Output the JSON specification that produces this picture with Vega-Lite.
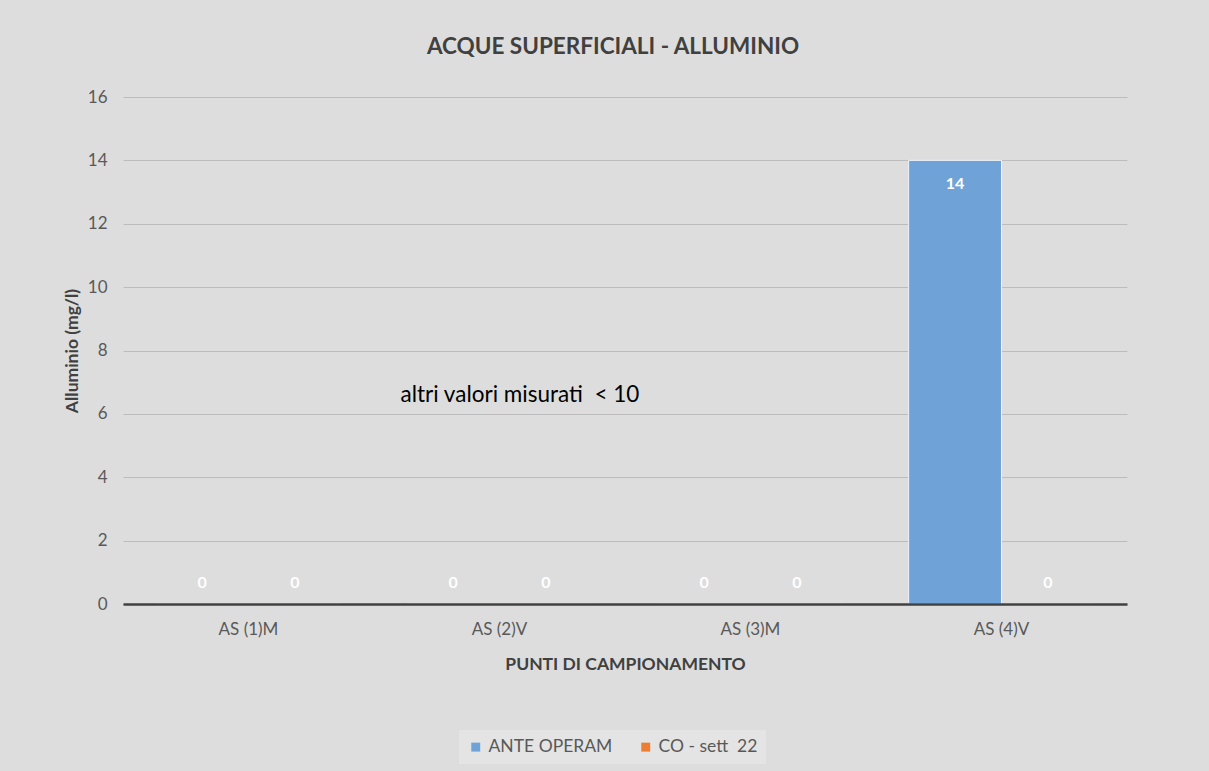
{
  "$schema": "https://vega.github.io/schema/vega-lite/v6.json",
  "width": 1004,
  "height": 507,
  "autosize": {"type": "none"},
  "padding": {"left": 123, "top": 97, "right": 82, "bottom": 167},
  "background": "#dddddd",
  "title": {
    "text": "ACQUE SUPERFICIALI - ALLUMINIO",
    "font": "Lato",
    "fontSize": 22.5,
    "fontWeight": "bold",
    "color": "#404040",
    "offset": 30,
    "dx": -12
  },
  "config": {
    "view": {"stroke": null},
    "axis": {
      "labelFont": "Lato",
      "titleFont": "Lato",
      "labelColor": "#595959",
      "titleColor": "#404040"
    }
  },
  "data": {
    "values": [
      {"punto": "AS (1)M", "serie": "ANTE OPERAM", "valore": 0},
      {"punto": "AS (1)M", "serie": "CO - sett\u00a0 22", "valore": 0},
      {"punto": "AS (2)V", "serie": "ANTE OPERAM", "valore": 0},
      {"punto": "AS (2)V", "serie": "CO - sett\u00a0 22", "valore": 0},
      {"punto": "AS (3)M", "serie": "ANTE OPERAM", "valore": 0},
      {"punto": "AS (3)M", "serie": "CO - sett\u00a0 22", "valore": 0},
      {"punto": "AS (4)V", "serie": "ANTE OPERAM", "valore": 14},
      {"punto": "AS (4)V", "serie": "CO - sett\u00a0 22", "valore": 0}
    ]
  },
  "encoding": {
    "x": {
      "field": "punto",
      "type": "nominal",
      "sort": null,
      "scale": {"paddingInner": 0.26, "paddingOuter": 0.13},
      "axis": {
        "title": "PUNTI DI CAMPIONAMENTO",
        "labelAngle": 0,
        "labelFontSize": 17,
        "labelPadding": 17,
        "titleFontSize": 17.5,
        "titleFontWeight": "bold",
        "titlePadding": 18,
        "ticks": false,
        "domainColor": "#404040",
        "domainWidth": 2.5,
        "zindex": 1
      }
    },
    "xOffset": {"field": "serie", "type": "nominal", "sort": null, "scale": {"paddingInner": 0, "paddingOuter": 0}},
    "y": {
      "field": "valore",
      "type": "quantitative",
      "scale": {"domain": [0, 16], "nice": false},
      "axis": {
        "title": "Alluminio (mg/l)",
        "values": [0, 2, 4, 6, 8, 10, 12, 14, 16],
        "labelFontSize": 17,
        "labelPadding": 16,
        "titleFontSize": 17.5,
        "titleFontWeight": "bold",
        "titlePadding": 6,
        "domain": false,
        "ticks": false,
        "gridColor": "#bcbcbc",
        "gridWidth": 1
      }
    }
  },
  "layer": [
    {
      "mark": {"type": "bar", "stroke": "#eef4fb", "strokeWidth": 1},
      "encoding": {
        "color": {
          "field": "serie",
          "type": "nominal",
          "sort": null,
          "scale": {"domain": ["ANTE OPERAM", "CO - sett\u00a0 22"], "range": ["#6fa3d7", "#ed7d31"]},
          "legend": {
            "title": null,
            "orient": "none",
            "legendX": 336,
            "legendY": 633,
            "direction": "horizontal",
            "symbolType": "square",
            "symbolSize": 80,
            "symbolStrokeWidth": 0,
            "labelFont": "Lato",
            "labelFontSize": 17.5,
            "labelColor": "#595959",
            "columnPadding": 24,
            "fillColor": "#e4e4e4",
            "padding": 8
          }
        }
      }
    },
    {
      "transform": [{"filter": "datum.valore == 0"}],
      "mark": {"type": "text", "dy": -21, "color": "white", "font": "Lato", "fontSize": 16, "fontWeight": "bold"},
      "encoding": {"text": {"field": "valore", "type": "quantitative"}}
    },
    {
      "transform": [{"filter": "datum.valore > 0"}],
      "mark": {"type": "text", "dy": 24, "color": "white", "font": "Lato", "fontSize": 16, "fontWeight": "bold"},
      "encoding": {"text": {"field": "valore", "type": "quantitative"}}
    },
    {
      "data": {"values": [{"punto": "AS (2)V", "valore": 6.6, "nota": "altri valori misurati\u00a0 < 10"}]},
      "mark": {"type": "text", "align": "left", "dx": -99, "color": "#000000", "font": "Lato", "fontSize": 22.5},
      "encoding": {
        "x": {"field": "punto", "type": "nominal", "sort": null, "scale": {"paddingInner": 0.26, "paddingOuter": 0.13}},
        "xOffset": null,
        "y": {"field": "valore", "type": "quantitative"},
        "text": {"field": "nota"}
      }
    }
  ]
}
